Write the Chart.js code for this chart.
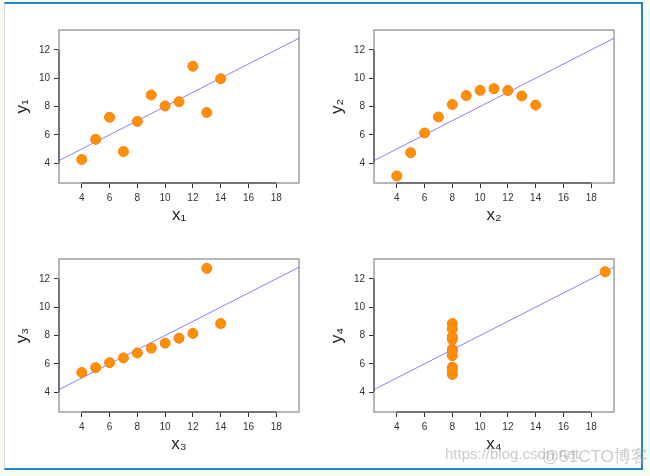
<!DOCTYPE html>
<html>
<head>
<meta charset="utf-8">
<script src="https://cdn.jsdelivr.net/npm/chart.js@4"></script>
<style>
  html, body { margin: 0; padding: 0; }
  body { width: 650px; height: 476px; background: #f6fbef; position: relative; overflow: hidden; }
  #frame {
    position: absolute; left: 4px; top: 2px; width: 636px; height: 464px;
    background: #fff; border-top: 2px solid #1b88cc; border-right: 2px solid #1b88cc;
    border-bottom: 2px solid #1b88cc; border-left: 1px solid #d8d8d8;
  }
  .panel { position: absolute; width: 320px; height: 235px; }
  .mark {
    position: absolute; top: 445px; font: 15px "Liberation Sans", sans-serif;
    color: rgba(160,160,160,0.55); white-space: nowrap;
  }
</style>
</head>
<body>
<div id="frame"></div>
<div class="panel" style="left:0;top:0"><canvas id="c1"></canvas></div>
<div class="panel" style="left:315px;top:0"><canvas id="c2"></canvas></div>
<div class="panel" style="left:0;top:229px"><canvas id="c3"></canvas></div>
<div class="panel" style="left:315px;top:229px"><canvas id="c4"></canvas></div>
<div class="mark" style="left:445px">https://blog.csdn.net</div>
<div class="mark" style="left:542px;font-size:17px">@51CTO博客</div>
<script>
// Anscombe's quartet
const x123 = [10, 8, 13, 9, 11, 14, 6, 4, 12, 7, 5];
const y1 = [8.04, 6.95, 7.58, 8.81, 8.33, 9.96, 7.24, 4.26, 10.84, 4.82, 5.68];
const y2 = [9.14, 8.14, 8.74, 8.77, 9.26, 8.10, 6.13, 3.10, 9.13, 7.26, 4.74];
const y3 = [7.46, 6.77, 12.74, 7.11, 7.81, 8.84, 6.08, 5.39, 8.15, 6.42, 5.73];
const x4 = [8, 8, 8, 8, 8, 8, 8, 19, 8, 8, 8];
const y4 = [6.58, 5.76, 7.71, 8.84, 8.47, 7.04, 5.25, 12.50, 5.56, 7.91, 6.89];

// fitted line y = a + b*x (same for all four)
const fitIntercept = 3.0;
const fitSlope = 0.5;

const xTicks = [4, 6, 8, 10, 12, 14, 16, 18];
const yTicks = [4, 6, 8, 10, 12];
const xLimits = [2.36, 19.64];
const yLimits = [2.6, 13.4];

const panels = [
  { id: "c1", x: x123, y: y1, xLabel: "x\u2081", yLabel: "y\u2081" },
  { id: "c2", x: x123, y: y2, xLabel: "x\u2082", yLabel: "y\u2082" },
  { id: "c3", x: x123, y: y3, xLabel: "x\u2083", yLabel: "y\u2083" },
  { id: "c4", x: x4, y: y4, xLabel: "x\u2084", yLabel: "y\u2084" },
];

// grey plot box + black axis segments like base R
const boxPlugin = {
  id: "box",
  beforeDatasetsDraw(chart) {
    const { ctx, chartArea: a, scales } = chart;
    ctx.save();
    ctx.strokeStyle = "#a0a0a0";
    ctx.lineWidth = 1.5;
    ctx.strokeRect(a.left, a.top, a.right - a.left, a.bottom - a.top);
    ctx.strokeStyle = "#333";
    ctx.lineWidth = 1;
    ctx.beginPath();
    ctx.moveTo(scales.x.getPixelForValue(xTicks[0]), a.bottom);
    ctx.lineTo(scales.x.getPixelForValue(xTicks[xTicks.length - 1]), a.bottom);
    ctx.moveTo(a.left, scales.y.getPixelForValue(yTicks[0]));
    ctx.lineTo(a.left, scales.y.getPixelForValue(yTicks[yTicks.length - 1]));
    ctx.stroke();
    ctx.restore();
  },
};

const tickFont = { family: "Liberation Sans, Arial, sans-serif", size: 10 };
const titleFont = { family: "Liberation Sans, Arial, sans-serif", size: 17 };

panels.forEach((p) => {
  const pts = p.x.map((v, i) => ({ x: v, y: p.y[i] }));
  const fit = xLimits.map((v) => ({ x: v, y: fitIntercept + fitSlope * v }));
  new Chart(document.getElementById(p.id), {
    type: "scatter",
    data: {
      datasets: [
        {
          type: "line",
          data: fit,
          borderColor: "rgba(90,90,255,0.75)",
          borderWidth: 1,
          pointRadius: 0,
          order: 2,
        },
        {
          data: pts,
          backgroundColor: "#ff9100",
          borderColor: "#ff7a1a",
          borderWidth: 1,
          pointRadius: 5,
          order: 1,
        },
      ],
    },
    options: {
      responsive: true,
      maintainAspectRatio: false,
      animation: false,
      events: [],
      layout: { padding: { top: 30, right: 21, left: 0, bottom: 0 } },
      plugins: { legend: { display: false }, tooltip: { enabled: false } },
      scales: {
        x: {
          type: "linear",
          min: xLimits[0],
          max: xLimits[1],
          afterBuildTicks: (s) => { s.ticks = xTicks.map((v) => ({ value: v })); },
          afterFit: (s) => { s.height = 52; },
          border: { display: false },
          grid: { drawOnChartArea: false, drawTicks: true, tickLength: 5, color: "#333" },
          ticks: { font: tickFont, color: "#333", padding: 4, maxRotation: 0 },
          title: { display: true, text: p.xLabel, font: titleFont, color: "#222", padding: { top: 0, bottom: 9 } },
        },
        y: {
          type: "linear",
          min: yLimits[0],
          max: yLimits[1],
          afterBuildTicks: (s) => { s.ticks = yTicks.map((v) => ({ value: v })); },
          afterFit: (s) => { s.width = 59; },
          border: { display: false },
          grid: { drawOnChartArea: false, drawTicks: true, tickLength: 5, color: "#333" },
          ticks: { font: tickFont, color: "#333", padding: 4 },
          title: { display: true, text: p.yLabel, font: titleFont, color: "#222", padding: { top: 12, bottom: 0 } },
        },
      },
    },
    plugins: [boxPlugin],
  });
});
</script>
</body>
</html>
